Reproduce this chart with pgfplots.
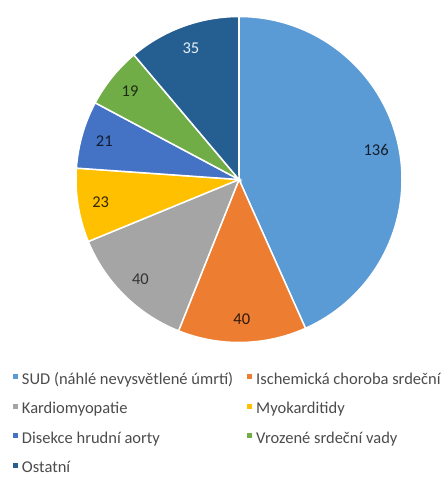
\documentclass[border=0pt]{standalone}
\usepackage{pgfplots}
\pgfplotsset{compat=1.18}
\usepackage{fontspec}
\setmainfont{Carlito}
\definecolor{cSUD}{HTML}{5B9BD5}
\definecolor{cISC}{HTML}{ED7D31}
\definecolor{cKAR}{HTML}{A5A5A5}
\definecolor{cMYO}{HTML}{FFC000}
\definecolor{cDIS}{HTML}{4472C4}
\definecolor{cVRO}{HTML}{70AD47}
\definecolor{cOST}{HTML}{255E91}
% values
\def\vA{136}\def\vB{40}\def\vC{40}\def\vD{23}\def\vE{21}\def\vF{19}\def\vG{35}
\pgfmathsetmacro\tot{\vA+\vB+\vC+\vD+\vE+\vF+\vG}
\pgfmathsetmacro\sA{90}
\pgfmathsetmacro\sB{\sA-\vA/\tot*360}
\pgfmathsetmacro\sC{\sB-\vB/\tot*360}
\pgfmathsetmacro\sD{\sC-\vC/\tot*360}
\pgfmathsetmacro\sE{\sD-\vD/\tot*360}
\pgfmathsetmacro\sF{\sE-\vE/\tot*360}
\pgfmathsetmacro\sG{\sF-\vF/\tot*360}
\pgfmathsetmacro\sH{\sG-\vG/\tot*360}
\newcommand\pieslice[3]{%
  \pgfmathsetmacro\px{cos(#2)}%
  \pgfmathsetmacro\py{sin(#2)}%
  \edef\temp{\noexpand\addplot[fill=#1, draw=white, line width=1.5bp] coordinates {(0,0) (\px,\py)} arc[start angle=#2, end angle=#3, radius=163bp] -- cycle;}%
  \temp
}
\newcommand\pielabel[4]{% start, end, text, color
  \pgfmathsetmacro\mm{(#1+#2)/2}%
  \pgfmathsetmacro\lx{0.86*cos(\mm)}%
  \pgfmathsetmacro\ly{0.86*sin(\mm)}%
  \edef\temp{\noexpand\node[text=#4, font=\noexpand\fontsize{16.5bp}{19bp}\noexpand\selectfont] at (axis cs:\lx,\ly) {#3};}%
  \temp
}
\begin{document}
\begin{tikzpicture}
\useasboundingbox (0,0) rectangle (446bp,477bp);
\fill[white] (0,0) rectangle (446bp,477bp);
\begin{axis}[
  at={(239bp,297.5bp)}, anchor=center,
  scale only axis, width=326bp, height=326bp,
  xmin=-1, xmax=1, ymin=-1, ymax=1,
  hide axis, clip=false,
  legend columns=2,
  legend image code/.code={\fill[#1, draw=none] (0bp,1.5bp) rectangle (5bp,6.5bp);},
  legend style={
    at={(-0.1933,-0.095)}, anchor=north west,
    draw=none, fill=none, inner sep=0pt, outer sep=0pt,
    font=\fontsize{16.5bp}{19bp}\selectfont, text=black!70,
    column sep=4bp, row sep=14.5bp,
    nodes={inner sep=0pt, text height=11bp, text depth=4bp},
    /tikz/every even column/.append style={column sep=14bp},
  },
  legend cell align=left,
]
\pieslice{cSUD}{\sA}{\sB}\addlegendentry{SUD (náhlé nevysvětlené úmrtí)}
\pieslice{cISC}{\sB}{\sC}\addlegendentry{Ischemická choroba srdeční}
\pieslice{cKAR}{\sC}{\sD}\addlegendentry{Kardiomyopatie}
\pieslice{cMYO}{\sD}{\sE}\addlegendentry{Myokarditidy}
\pieslice{cDIS}{\sE}{\sF}\addlegendentry{Disekce hrudní aorty}
\pieslice{cVRO}{\sF}{\sG}\addlegendentry{Vrozené srdeční vady}
\pieslice{cOST}{\sG}{\sH}\addlegendentry{Ostatní}
\pielabel{\sA}{\sB}{136}{black!80!cSUD}
\pielabel{\sB}{\sC}{40}{black!80!cISC}
\pielabel{\sC}{\sD}{40}{black!80}
\pielabel{\sD}{\sE}{23}{black!80!cMYO}
\pielabel{\sE}{\sF}{21}{black!75!cDIS}
\pielabel{\sF}{\sG}{19}{black!75!cVRO}
\pielabel{\sG}{\sH}{35}{white!85!cSUD}
\end{axis}
\end{tikzpicture}
\end{document}
